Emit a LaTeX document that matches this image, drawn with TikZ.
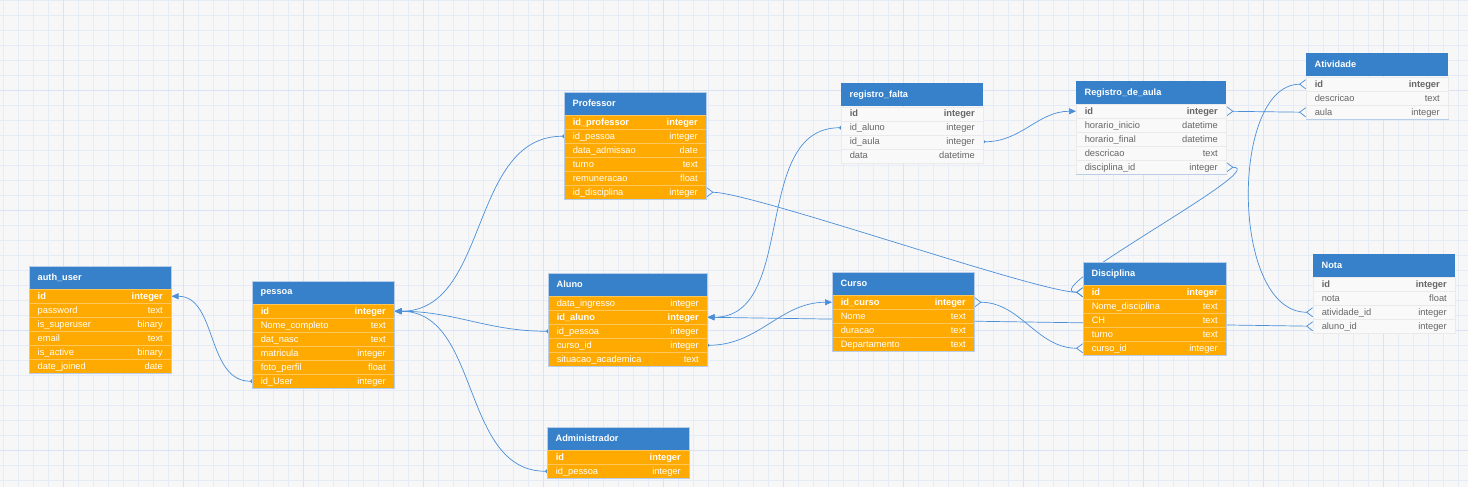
\documentclass[tikz,border=0pt]{standalone}
\usepackage{fontspec}
\setmainfont{Liberation Sans}
\usetikzlibrary{arrows.meta,backgrounds}

\definecolor{bgc}{HTML}{F7F7F8}
\definecolor{gridc}{HTML}{E6ECF7}
\definecolor{gridm}{HTML}{DAE3F3}
\definecolor{headc}{HTML}{3781CA}
\definecolor{orc}{HTML}{FFAA00}
\definecolor{orline}{HTML}{FFC65A}
\definecolor{wrc}{HTML}{F9F9F9}
\definecolor{wrline}{HTML}{EAEAEA}
\definecolor{tblline}{HTML}{B7CDE9}
\definecolor{linkc}{HTML}{4A8FD8}
\definecolor{txtc}{HTML}{666666}

\begin{document}
\begin{tikzpicture}[x=1pt,y=-1pt,font=\fontsize{9.3}{10}\selectfont,
    tblhead/.style={anchor=north west,fill=headc,text=white,font=\fontsize{9.2}{10}\selectfont\bfseries,
        minimum height=23pt,inner xsep=8.5pt,inner ysep=0pt,text width=#1},
    orow/.style={anchor=north west,fill=orc,draw=orline,line width=0.5pt,text=white,
        minimum height=14pt,inner xsep=8.5pt,inner ysep=0pt,text height=7.5pt,text depth=1.5pt,text width=#1},
    wrow/.style={orow=#1,fill=wrc,draw=wrline,text=txtc},
    tblframe/.style={draw=tblline,line width=0.6pt},
    fkline/.style={draw=linkc,line width=0.7pt,{Circle[length=4pt]}-{Triangle[length=7pt,width=6pt]},shorten <=-2pt},
    manyline/.style={draw=linkc,line width=0.7pt,{Straight Barb[reversed,length=6pt,width=9pt]}-{Straight Barb[reversed,length=6pt,width=9pt]}},
    manyone/.style={draw=linkc,line width=0.7pt,{Straight Barb[reversed,length=6pt,width=9pt]}-{Triangle[length=7pt,width=6pt]}}]
    \useasboundingbox (0,0) rectangle (1468,487);
    \begin{pgfonlayer}{background}
        \fill[bgc] (0,0) rectangle (1468,487);
        \foreach \gx in {3,18,...,1468} \draw[gridc,line width=0.5pt] (\gx,0) -- (\gx,487);
        \foreach \gy in {0,15,...,487} \draw[gridc,line width=0.5pt] (0,\gy) -- (1468,\gy);
        \foreach \gx in {63,183,...,1468} \draw[gridm,line width=0.6pt] (\gx,0) -- (\gx,487);
        \foreach \gy in {90,210,...,487} \draw[gridm,line width=0.6pt] (0,\gy) -- (1468,\gy);
    \end{pgfonlayer}

    % auth_user
    \node[tblhead=125pt] (auth) at (29,266) {auth\_user};
    \foreach \n/\t [count=\i] in {\bfseries id/integer, password/text, is\_superuser/binary, email/text, is\_active/binary, date\_joined/date}
        \node[orow=125pt] (auth-\i) at (29,{289+14*(\i-1)}) {\n\hfill\t};
    \draw[tblframe] (auth.north west) rectangle (auth-6.south east);

    % pessoa
    \node[tblhead=125pt] (pessoa) at (252,281) {pessoa};
    \foreach \n/\t [count=\i] in {\bfseries id/integer, Nome\_completo/text, dat\_nasc/text, matricula/integer, foto\_perfil/float, id\_User/integer}
        \node[orow=125pt] (pessoa-\i) at (252,{304+14*(\i-1)}) {\n\hfill\t};
    \draw[tblframe] (pessoa.north west) rectangle (pessoa-6.south east);

    % Professor
    \node[tblhead=125pt] (prof) at (564,92) {Professor};
    \foreach \n/\t [count=\i] in {\bfseries id\_professor/integer, id\_pessoa/integer, data\_admissao/date, turno/text, remuneracao/float, id\_disciplina/integer}
        \node[orow=125pt] (prof-\i) at (564,{115+14*(\i-1)}) {\n\hfill\t};
    \draw[tblframe] (prof.north west) rectangle (prof-6.south east);

    % Aluno
    \node[tblhead=142pt] (aluno) at (548,273) {Aluno};
    \foreach \n/\t [count=\i] in {data\_ingresso/integer, \bfseries id\_aluno/integer, id\_pessoa/integer, curso\_id/integer, situacao\_academica/text}
        \node[orow=142pt] (aluno-\i) at (548,{296+14*(\i-1)}) {\n\hfill\t};
    \draw[tblframe] (aluno.north west) rectangle (aluno-5.south east);

    % Administrador
    \node[tblhead=125pt] (admin) at (547,427) {Administrador};
    \foreach \n/\t [count=\i] in {\bfseries id/integer, id\_pessoa/integer}
        \node[orow=125pt] (admin-\i) at (547,{450+14*(\i-1)}) {\n\hfill\t};
    \draw[tblframe] (admin.north west) rectangle (admin-2.south east);

    % registro_falta
    \node[tblhead=125pt] (falta) at (841,83) {registro\_falta};
    \foreach \n/\t [count=\i] in {\bfseries id/integer, id\_aluno/integer, id\_aula/integer, data/datetime}
        \node[wrow=125pt] (falta-\i) at (841,{106.5+14*(\i-1)}) {\n\hfill\t};

    % Curso
    \node[tblhead=125pt] (curso) at (832,272) {Curso};
    \foreach \n/\t [count=\i] in {\bfseries id\_curso/integer, Nome/text, duracao/text, Departamento/text}
        \node[orow=125pt] (curso-\i) at (832,{295+14*(\i-1)}) {\n\hfill\t};
    \draw[tblframe] (curso.north west) rectangle (curso-4.south east);

    % Registro_de_aula
    \node[tblhead=133pt] (aula) at (1076,81) {Registro\_de\_aula};
    \foreach \n/\t [count=\i] in {\bfseries id/integer, horario\_inicio/datetime, horario\_final/datetime, descricao/text, disciplina\_id/integer}
        \node[wrow=133pt] (aula-\i) at (1076,{104+14*(\i-1)}) {\n\hfill\t};
    \draw[tblframe] (aula-5.south west) -- (aula-5.south east);

    % Disciplina
    \node[tblhead=126pt] (disc) at (1083,262) {Disciplina};
    \foreach \n/\t [count=\i] in {\bfseries id/integer, Nome\_disciplina/text, CH/text, turno/text, curso\_id/integer}
        \node[orow=126pt] (disc-\i) at (1083,{285+14*(\i-1)}) {\n\hfill\t};
    \draw[tblframe] (disc.north west) rectangle (disc-5.south east);

    % Atividade
    \node[tblhead=125pt] (ativ) at (1306,53) {Atividade};
    \foreach \n/\t [count=\i] in {\bfseries id/integer, descricao/text, aula/integer}
        \node[wrow=125pt] (ativ-\i) at (1306,{77+14*(\i-1)}) {\n\hfill\t};
    \draw[tblframe] (ativ-3.south west) -- (ativ-3.south east);

    % Nota
    \node[tblhead=125pt] (nota) at (1313,254) {Nota};
    \foreach \n/\t [count=\i] in {\bfseries id/integer, nota/float, atividade\_id/integer, aluno\_id/integer}
        \node[wrow=125pt] (nota-\i) at (1313,{277+14*(\i-1)}) {\n\hfill\t};

    % ligacoes
    \begin{pgfonlayer}{background}
        \draw[fkline] (pessoa-6.west) to[out=180,in=0] (auth-1.east);
        \draw[fkline] (prof-2.west) to[out=180,in=0] (pessoa-1.east);
        \draw[fkline] (aluno-3.west) to[out=180,in=0] (pessoa-1.east);
        \draw[fkline] (admin-2.west) to[out=180,in=0] (pessoa-1.east);
        \draw[fkline] (falta-2.west) to[out=180,in=0] (aluno-2.east);
        \draw[fkline] (falta-3.east) to[out=0,in=180] (aula-1.west);
        \draw[fkline] (aluno-4.east) to[out=0,in=180] (curso-1.west);
        \draw[manyline] (prof-6.east) to[out=0,in=180,looseness=0.3] (disc-1.west);
        \draw[manyline] (aula-5.east) .. controls +(46,0) and +(-50,0) .. (disc-1.west);
        \draw[manyline] (aula-1.east) -- (ativ-3.west);
        \draw[manyline] (ativ-1.west) .. controls +(-76,0) and +(-83,0) .. (nota-3.west);
        \draw[manyline] (curso-1.east) to[out=0,in=180] (disc-5.west);
        \draw[manyone] (nota-4.west) -- (aluno-2.east);
    \end{pgfonlayer}
\end{tikzpicture}
\end{document}
